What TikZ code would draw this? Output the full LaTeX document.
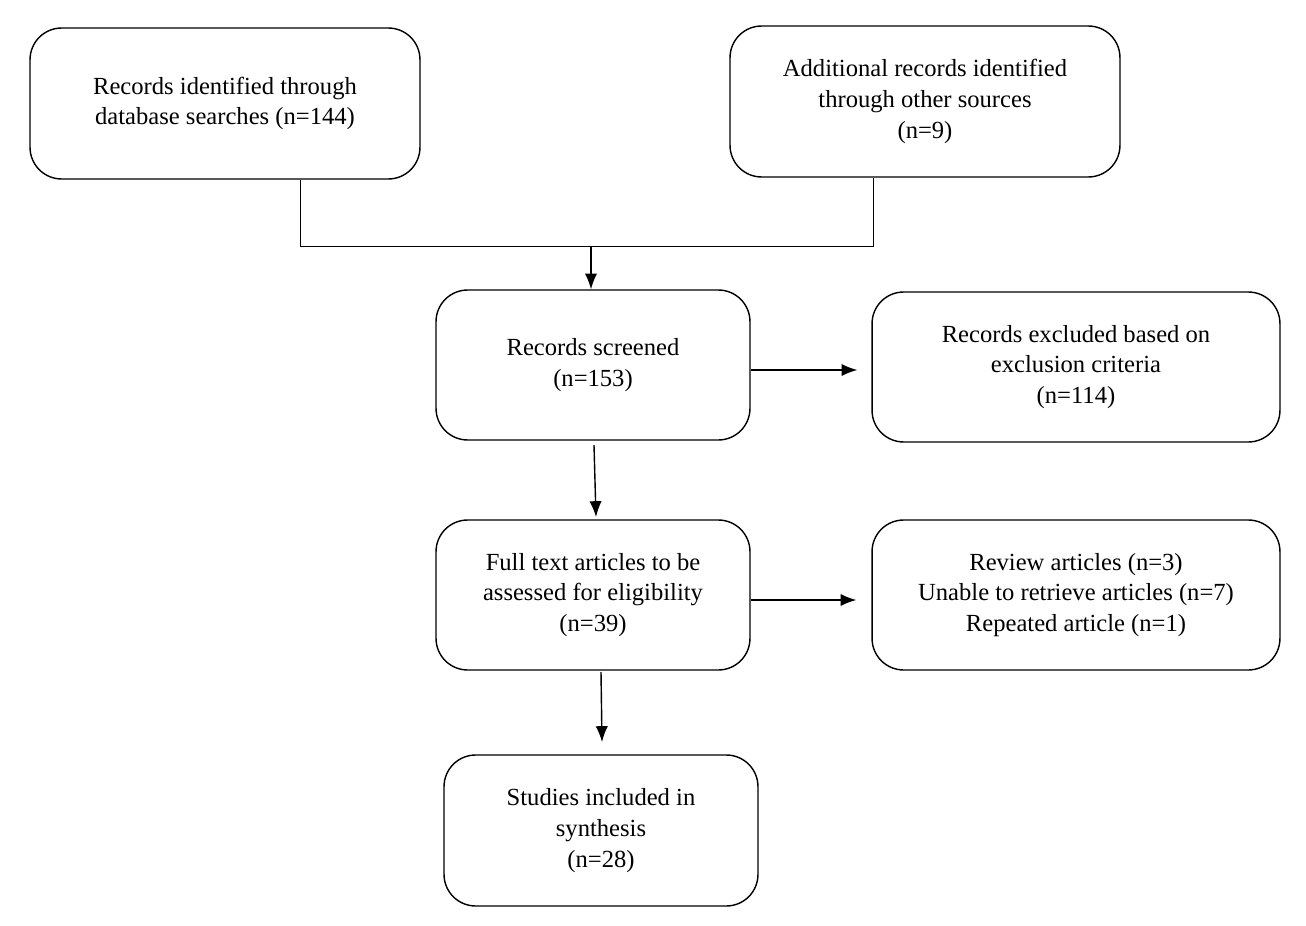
\documentclass[tikz,border=0pt]{standalone}
\usepackage{fontspec}
\setmainfont{Liberation Serif}
\usetikzlibrary{arrows.meta}
\begin{document}
\begin{tikzpicture}[x=0.02cm, y=-0.02cm,
  box/.style={draw, thick, rounded corners=18pt, align=center, inner sep=0pt,
    font=\fontsize{14}{17.5}\selectfont},
  arr/.style={-{Latex[length=9pt,width=7pt]}, thick}]
\useasboundingbox (0,0) rectangle (1306,926);

\node[box, minimum width=390\pgflinewidth] (ids) at (225,103.5) [minimum width=7.8cm, minimum height=3.02cm] {Records identified through\\database searches (n=144)};
\node[box, minimum width=7.8cm, minimum height=3.02cm] (oth) at (925,101.5) {Additional records identified\\through other sources\\(n=9)};
\node[box, minimum width=6.28cm, minimum height=3cm] (scr) at (593,365) {Records screened\\(n=153)};
\node[box, minimum width=8.16cm, minimum height=3cm] (exc) at (1076,367) {Records excluded based on\\exclusion criteria\\(n=114)};
\node[box, minimum width=6.28cm, minimum height=3cm] (ful) at (593,595) {Full text articles to be\\assessed for eligibility\\(n=39)};
\node[box, minimum width=8.16cm, minimum height=3cm] (rev) at (1076,595) {Review articles (n=3)\\Unable to retrieve articles (n=7)\\Repeated article (n=1)};
\node[box, minimum width=6.28cm, minimum height=3.02cm] (inc) at (601,830.5) {Studies included in\\synthesis\\(n=28)};

% merge line
\coordinate (m1) at (300,246);
\coordinate (m2) at (873,246);
\coordinate (mm) at (591,246);
\draw[thin] (ids.south -| m1) -- (m1) -- (m2) -- (oth.south -| m2);
\draw[arr] (mm) -- (scr.north -| mm);

\draw[arr] (scr.east |- 0,370) -- ([xshift=-0.28cm]exc.west |- 0,370);
\draw[arr] (ful.east |- 0,600) -- ([xshift=-0.3cm]rev.west |- 0,600);
\coordinate (s1) at (594,445);
\coordinate (e1) at (596,517);
\draw[arr] (s1) -- (e1);
\coordinate (s2) at (601,672);
\coordinate (e2) at (602,742);
\draw[arr] (s2) -- (e2);
\end{tikzpicture}
\end{document}
